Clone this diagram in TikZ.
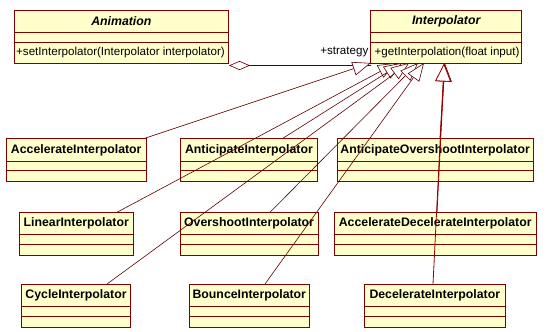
\documentclass[tikz,border=0pt]{standalone}
\usepackage{fontspec}
\setmainfont{Liberation Sans}
\usetikzlibrary{arrows.meta}
\definecolor{umlfill}{RGB}{255,255,204}
\definecolor{umlborder}{RGB}{128,0,0}
\definecolor{umlline}{RGB}{90,0,0}
\definecolor{umlred}{RGB}{150,0,0}
\tikzset{
  clsbox/.style={draw=umlborder, fill=umlfill, line width=0.9pt, inner sep=0pt, outer sep=0pt, anchor=north west},
  clsline/.style={draw=umlborder, line width=0.9pt},
  clsname/.style={font=\fontsize{12.3}{14}\selectfont\bfseries, inner sep=0pt},
  absname/.style={font=\fontsize{12.3}{14}\selectfont\bfseries\itshape, inner sep=0pt},
  optext/.style={font=\fontsize{11.6}{14}\selectfont, inner sep=0pt, anchor=west},
  genline/.style={draw=umlline, line width=0.6pt, -{Triangle[length=18pt,width=14pt,fill=white]}},
  genred/.style={draw=umlred, line width=0.8pt, -{Triangle[length=18pt,width=16pt,fill=white]}},
  aggline/.style={draw=umlline, line width=0.6pt, {Diamond[length=21pt,width=9pt,fill=white]}-},
}
% name, x1, y1, x2, ya, yb, y2, label
\newcommand{\umlclass}[8]{%
  \node[clsbox, minimum width={#4-#2}, minimum height={#7-#3}] (#1) at (#2,#3) {};
  \draw[clsline] (#2,#5) -- (#4,#5) (#2,#6) -- (#4,#6);
  \node[clsname] (#1-name) at ({(#2+#4)/2},{(#3+#5)/2+0.5}) {#8};
}
\begin{document}
\begin{tikzpicture}[x=1pt,y=-1pt]
\fill[white] (0,0) rectangle (547,332);
\useasboundingbox (0,0) rectangle (547,332);

% Abstract classes
\node[clsbox, minimum width=214.7, minimum height=53] (anim) at (14,10) {};
\draw[clsline] (14,32) -- (228.7,32) (14,42) -- (228.7,42);
\node[absname] (anim-name) at (121.35,21.5) {Animation};
\node[optext] (anim-op) at (16,53) {+setInterpolator(Interpolator interpolator)};

\node[clsbox, minimum width=151, minimum height=53] (interp) at (370.7,10) {};
\draw[clsline] (370.7,32) -- (521.7,32) (370.7,42) -- (521.7,42);
\node[absname] (interp-name) at (446.2,21.5) {Interpolator};
\node[optext] (interp-op) at (374.5,53) {+getInterpolation(float input)};

% Concrete classes
\umlclass{acc}{6.3}{138.2}{146.2}{161.4}{170.8}{181.4}{AccelerateInterpolator}
\umlclass{ant}{180.6}{138.2}{317.3}{161.4}{170.8}{181.4}{AnticipateInterpolator}
\umlclass{aos}{337.3}{138.2}{533}{161.4}{170.8}{181.4}{AnticipateOvershootInterpolator}
\umlclass{lin}{19.3}{212.3}{133.2}{234}{244.5}{255}{LinearInterpolator}
\umlclass{ovs}{180.2}{212.3}{318}{234}{244.5}{255}{OvershootInterpolator}
\umlclass{adc}{334}{212.3}{536.5}{234}{244.5}{255}{AccelerateDecelerateInterpolator}
\umlclass{cyc}{21.7}{284}{130.4}{306}{316.6}{327}{CycleInterpolator}
\umlclass{bnc}{189.3}{284}{309.3}{306}{316.6}{327}{BounceInterpolator}
\umlclass{dec}{364.6}{284}{505}{306}{316.6}{327}{DecelerateInterpolator}

% connector end points
\coordinate (aggS) at (229,65.5);
\coordinate (aggE) at (370.7,65.5);
\coordinate (accT) at (145,138.2);
\coordinate (linT) at (117,212.3);
\coordinate (antT) at (283,138.2);
\coordinate (cycT) at (107,284);
\coordinate (ovsT) at (270,212.3);
\coordinate (bncT) at (265,284);
\coordinate (aosT) at (440,138.2);
\coordinate (adcT) at (437,212.3);
\coordinate (decT) at (433,284);
\coordinate (iB1) at (370.7,63);
\coordinate (iB2) at (396,63);
\coordinate (iB3) at (402,63);
\coordinate (iB4) at (409,63);
\coordinate (iB5) at (418,63);
\coordinate (iB6) at (424,63);
\coordinate (iB7) at (445,63.5);
\coordinate (iB8) at (444.5,63.5);
\coordinate (iB9) at (444,63.5);

% aggregation
\draw[aggline] (aggS) -- (aggE);
\node[optext, anchor=east] (strat) at (368.5,52) {+strategy};

% generalizations
\draw[genline] (accT) -- (iB1);
\draw[genline] (linT) -- (iB2);
\draw[genline] (antT) -- (iB3);
\draw[genline] (cycT) -- (iB4);
\draw[genline] (ovsT) -- (iB5);
\draw[genline] (bncT) -- (iB6);
\draw[genred] (aosT) -- (iB7);
\draw[genred] (adcT) -- (iB8);
\draw[genred] (decT) -- (iB9);
\end{tikzpicture}
\end{document}
